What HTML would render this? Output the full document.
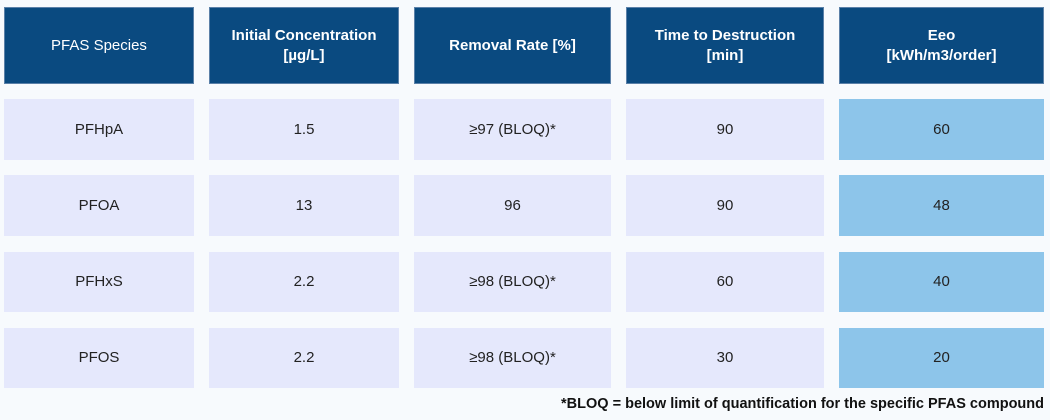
<!DOCTYPE html>
<html><head><meta charset="utf-8"><style>
html,body{margin:0;padding:0;}
body{width:1050px;height:420px;background:#f7fafd;position:relative;overflow:hidden;font-family:"Liberation Sans",sans-serif;}
.c{position:absolute;display:flex;align-items:center;justify-content:center;text-align:center;font-size:15px;color:#222;line-height:20px;}
.h{background:#0a4a80;color:#fff;top:7px;height:77px;font-weight:bold;box-shadow:0 0 0 1px #5a80a8 inset;font-size:15px;}
.h.n{font-weight:normal;}
.d{background:#e5e8fc;}
.e{background:#8dc5ea;}
.foot{position:absolute;right:6px;top:396px;font-size:14.5px;font-weight:bold;color:#111;white-space:nowrap;}
</style></head><body>
<div class="c h n" style="left:4px;width:190px">PFAS Species</div>
<div class="c h" style="left:209px;width:190px">Initial Concentration<br>[µg/L]</div>
<div class="c h" style="left:414px;width:197px">Removal Rate [%]</div>
<div class="c h" style="left:626px;width:198px">Time to Destruction<br>[min]</div>
<div class="c h" style="left:839px;width:205px">Eeo<br>[kWh/m3/order]</div>

<div class="c d" style="left:4px;width:190px;top:99px;height:61px">PFHpA</div>
<div class="c d" style="left:209px;width:190px;top:99px;height:61px">1.5</div>
<div class="c d" style="left:414px;width:197px;top:99px;height:61px">≥97 (BLOQ)*</div>
<div class="c d" style="left:626px;width:198px;top:99px;height:61px">90</div>
<div class="c e" style="left:839px;width:205px;top:99px;height:61px">60</div>

<div class="c d" style="left:4px;width:190px;top:175px;height:61px">PFOA</div>
<div class="c d" style="left:209px;width:190px;top:175px;height:61px">13</div>
<div class="c d" style="left:414px;width:197px;top:175px;height:61px">96</div>
<div class="c d" style="left:626px;width:198px;top:175px;height:61px">90</div>
<div class="c e" style="left:839px;width:205px;top:175px;height:61px">48</div>

<div class="c d" style="left:4px;width:190px;top:252px;height:60px">PFHxS</div>
<div class="c d" style="left:209px;width:190px;top:252px;height:60px">2.2</div>
<div class="c d" style="left:414px;width:197px;top:252px;height:60px">≥98 (BLOQ)*</div>
<div class="c d" style="left:626px;width:198px;top:252px;height:60px">60</div>
<div class="c e" style="left:839px;width:205px;top:252px;height:60px">40</div>

<div class="c d" style="left:4px;width:190px;top:328px;height:60px">PFOS</div>
<div class="c d" style="left:209px;width:190px;top:328px;height:60px">2.2</div>
<div class="c d" style="left:414px;width:197px;top:328px;height:60px">≥98 (BLOQ)*</div>
<div class="c d" style="left:626px;width:198px;top:328px;height:60px">30</div>
<div class="c e" style="left:839px;width:205px;top:328px;height:60px">20</div>

<div class="foot">*BLOQ = below limit of quantification for the specific PFAS compound</div>
</body></html>
